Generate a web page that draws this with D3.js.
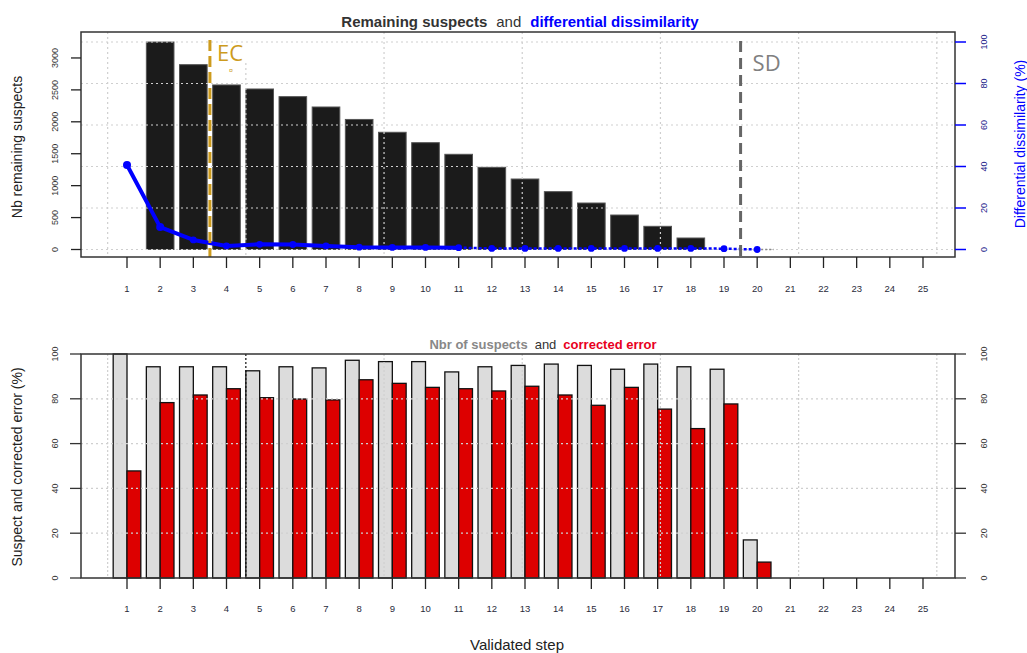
<!DOCTYPE html>
<html>
<head>
<meta charset="utf-8">
<script src="https://cdn.jsdelivr.net/npm/d3@7"></script>
<style>
body { margin:0; background:#fff; }
svg text { font-family: "Liberation Sans", Arial, sans-serif; }
</style>
</head>
<body>
<svg id="chart" width="1027" height="653"></svg>
<script>
// data
var steps = d3.range(1, 26);
var remaining = [0, 3250, 2895, 2577, 2514, 2394, 2232, 2037, 1836, 1673, 1491, 1287, 1104, 906, 728, 540, 363, 180, 0, 0];
var dissim = [40.7, 10.8, 4.6, 1.7, 2.5, 2.4, 1.7, 1.1, 1.0, 1.0, 0.9, 0.5, 0.5, 0.5, 0.5, 0.5, 0.5, 0.5, 0.4, 0.0];
var suspectPct = [100, 94.3, 94.3, 94.3, 92.5, 94.3, 93.8, 97.2, 96.6, 96.6, 92.0, 94.3, 94.9, 95.5, 94.9, 93.2, 95.5, 94.3, 93.2, 17.0];
var correctedPct = [47.8, 78.3, 81.7, 84.5, 80.5, 79.9, 79.5, 88.5, 86.9, 85.1, 84.5, 83.5, 85.6, 81.7, 77.1, 85.1, 75.4, 66.7, 77.7, 7.1];
var leftTicksTop = [0, 500, 1000, 1500, 2000, 2500, 3000];
var pctTicks = [0, 20, 40, 60, 80, 100];
var ecStep = 3.5, sdStep = 19.5, solidUntil = 11;
// grid in barplot coordinates (0,5,..30) -> step units
var gridSteps = [0, 5, 10, 15, 20, 25, 30].map(c => 1 + (c - 0.7) / 1.2);

var svg = d3.select("#chart");
var x = d3.scaleLinear().domain([1, 25]).range([127, 923]);
var stepW = x(2) - x(1);
var boxL = 81, boxR = 955;

var top_ = {t: 32, b: 257};
var bot_ = {t: 354, b: 578};

var yLeft = d3.scaleLinear().domain([0, 3250]).range([249.5, 42]);
var yRight = d3.scaleLinear().domain([0, 100]).range([249.5, 42]);
var yLow = d3.scaleLinear().domain([0, 100]).range([578, 354]);

var gridCol = "#cfcfcf";

////////////// top panel

svg.append("g").selectAll("rect")
  .data(remaining)
  .enter().append("rect")
  .attr("x", (d, i) => x(i + 1) - stepW * 0.833 / 2)
  .attr("width", stepW * 0.833)
  .attr("y", d => yLeft(d))
  .attr("height", d => yLeft(0) - yLeft(d))
  .style("fill", "#1b1b1b")
  .style("stroke", d => d > 0 ? "#555" : "none")
  .style("stroke-width", 1)

// grid over the bars
var gtop = svg.append("g")
gtop.selectAll("line.h")
  .data(pctTicks).enter().append("line")
  .attr("x1", boxL).attr("x2", boxR)
  .attr("y1", d => yRight(d)).attr("y2", d => yRight(d))
  .style("stroke", gridCol).style("stroke-dasharray", "2,3").style("stroke-width", 1.2)
gtop.selectAll("line.v")
  .data(gridSteps).enter().append("line")
  .attr("x1", d => x(d)).attr("x2", d => x(d))
  .attr("y1", (d, i) => i == 1 ? 63 : top_.t).attr("y2", top_.b)
  .style("stroke", gridCol).style("stroke-dasharray", "2,3").style("stroke-width", 1.2)

// dissimilarity line
var line = d3.line().x((d, i) => x(i + 1)).y(d => yRight(d));
var solidPart = dissim.slice(0, solidUntil);
svg.append("path")
  .attr("d", line(solidPart))
  .style("fill", "none").style("stroke", "blue").style("stroke-width", 4)
  .style("stroke-linejoin", "round")
svg.append("path")
  .attr("d", d3.line().x(d => x(d[0])).y(d => yRight(d[1]))(dissim.map((d, i) => [i + 1, d]).slice(solidUntil - 1)))
  .style("fill", "none").style("stroke", "blue").style("stroke-width", 2.5)
  .style("stroke-dasharray", "3,2")
svg.append("line")
  .attr("x1", x(20)).attr("x2", x(20.5))
  .attr("y1", yRight(0)).attr("y2", yRight(0))
  .style("stroke", "#888").style("stroke-dasharray", "2,2").style("stroke-width", 1.5)

svg.append("g").selectAll("circle")
  .data(dissim).enter().append("circle")
  .attr("cx", (d, i) => x(i + 1))
  .attr("cy", d => yRight(d))
  .attr("r", (d, i) => i < 2 ? 4 : 3.4)
  .style("fill", "blue")

// EC and SD lines
svg.append("line")
  .attr("x1", x(ecStep)).attr("x2", x(ecStep))
  .attr("y1", 40).attr("y2", top_.b)
  .style("stroke", "#cd9b1d").style("stroke-width", 3).style("stroke-dasharray", "11,5")
svg.append("text").attr("x", x(ecStep) + 7).attr("y", 61)
  .style("font-family", "'Open Sans', 'DejaVu Sans', sans-serif")
  .style("font-size", "22px").style("fill", "#cd9b1d").text("EC")
svg.append("text").attr("x", 231).attr("y", 73).attr("text-anchor", "middle")
  .style("font-size", "7px").style("fill", "#cd9b1d").text("¤")

svg.append("line")
  .attr("x1", x(sdStep)).attr("x2", x(sdStep))
  .attr("y1", 41).attr("y2", top_.b)
  .style("stroke", "#666").style("stroke-width", 3).style("stroke-dasharray", "11,6")
svg.append("text").attr("x", x(sdStep) + 12).attr("y", 71)
  .style("font-family", "'Open Sans', 'DejaVu Sans', sans-serif")
  .style("font-size", "22px").style("fill", "#808080").text("SD")

// box
svg.append("rect").attr("x", boxL).attr("y", top_.t).attr("width", boxR - boxL).attr("height", top_.b - top_.t)
  .style("fill", "none").style("stroke", "#333").style("stroke-width", 1.5)

// left axis
var la = svg.append("g")
la.selectAll("line").data(leftTicksTop).enter().append("line")
  .attr("x1", 71).attr("x2", boxL).attr("y1", d => yLeft(d)).attr("y2", d => yLeft(d))
  .style("stroke", "#222").style("stroke-width", 1.3)
la.selectAll("text").data(leftTicksTop).enter().append("text")
  .attr("transform", d => "translate(58," + yLeft(d) + ") rotate(-90)")
  .attr("text-anchor", "middle")
  .style("font-size", "9px").style("fill", "#333").text(d => d)

// right axis (blue)
var ra = svg.append("g")
ra.selectAll("line").data(pctTicks).enter().append("line")
  .attr("x1", boxR).attr("x2", 966).attr("y1", d => yRight(d)).attr("y2", d => yRight(d))
  .style("stroke", "blue").style("stroke-width", 1.5)
ra.selectAll("text").data(pctTicks).enter().append("text")
  .attr("transform", d => "translate(987," + yRight(d) + ") rotate(-90)")
  .attr("text-anchor", "middle")
  .style("font-size", "9px").style("fill", "#1a1a8a").text(d => d)

// x axis
function xaxis(y0, ylab) {
  var g = svg.append("g")
  g.selectAll("line").data(steps).enter().append("line")
    .attr("x1", d => x(d)).attr("x2", d => x(d)).attr("y1", y0).attr("y2", y0 + 11)
    .style("stroke", "#222").style("stroke-width", 1.3)
  g.selectAll("text").data(steps).enter().append("text")
    .attr("x", d => x(d)).attr("y", ylab).attr("text-anchor", "middle")
    .style("font-size", "9.5px").style("fill", "#2a2a3a").text(d => d)
}
xaxis(top_.b, 292)

// titles
var t1 = svg.append("text").attr("x", 520).attr("y", 27).attr("text-anchor", "middle")
  .style("font-size", "15px")
t1.append("tspan").style("font-weight", "bold").style("fill", "#333").text("Remaining suspects")
t1.append("tspan").style("fill", "#333").attr("dx", 9).text("and")
t1.append("tspan").style("font-weight", "bold").style("fill", "blue").attr("dx", 9).text("differential dissimilarity")

svg.append("text").attr("transform", "translate(22,147) rotate(-90)").attr("text-anchor", "middle")
  .style("font-size", "14px").style("fill", "#222").text("Nb remaining suspects")
svg.append("text").attr("transform", "translate(1025,144) rotate(-90)").attr("text-anchor", "middle")
  .style("font-size", "14px").style("fill", "blue").text("Differential dissimilarity (%)")

////////////// bottom panel

var barW = stepW * 0.833 / 2;
svg.append("g").selectAll("rect")
  .data(suspectPct).enter().append("rect")
  .attr("x", (d, i) => x(i + 1) - barW).attr("width", barW)
  .attr("y", d => yLow(d)).attr("height", d => yLow(0) - yLow(d))
  .style("fill", "#dcdcdc").style("stroke", "#111").style("stroke-width", 1.3)
svg.append("g").selectAll("rect")
  .data(correctedPct).enter().append("rect")
  .attr("x", (d, i) => x(i + 1)).attr("width", barW)
  .attr("y", d => yLow(d)).attr("height", d => yLow(0) - yLow(d))
  .style("fill", "#dd0000").style("stroke", "#111").style("stroke-width", 1.3)

var gb = svg.append("g")
gb.selectAll("line.h").data([20, 40, 60, 80]).enter().append("line")
  .attr("x1", boxL).attr("x2", boxR).attr("y1", d => yLow(d)).attr("y2", d => yLow(d))
  .style("stroke", gridCol).style("stroke-dasharray", "2,3").style("stroke-width", 1.2)
gb.selectAll("line.v").data(gridSteps).enter().append("line")
  .attr("x1", d => x(d)).attr("x2", d => x(d)).attr("y1", bot_.t).attr("y2", bot_.b)
  .style("stroke", (d, i) => i == 1 ? "#111" : gridCol)
  .style("stroke-dasharray", "2,2").style("stroke-width", 1.2)

svg.append("rect").attr("x", boxL).attr("y", bot_.t).attr("width", boxR - boxL).attr("height", bot_.b - bot_.t)
  .style("fill", "none").style("stroke", "#333").style("stroke-width", 1.5)

// y axes both sides
var lb = svg.append("g")
lb.selectAll("line.l").data(pctTicks).enter().append("line")
  .attr("x1", 70).attr("x2", boxL).attr("y1", d => yLow(d)).attr("y2", d => yLow(d))
  .style("stroke", "#333").style("stroke-width", 1.3)
lb.selectAll("line.r").data(pctTicks).enter().append("line")
  .attr("x1", boxR).attr("x2", 966).attr("y1", d => yLow(d)).attr("y2", d => yLow(d))
  .style("stroke", "#333").style("stroke-width", 1.3)
lb.selectAll("text.l").data(pctTicks).enter().append("text")
  .attr("transform", d => "translate(58," + yLow(d) + ") rotate(-90)")
  .attr("text-anchor", "middle").style("font-size", "9px").style("fill", "#333").text(d => d)
lb.selectAll("text.r").data(pctTicks).enter().append("text")
  .attr("transform", d => "translate(987," + yLow(d) + ") rotate(-90)")
  .attr("text-anchor", "middle").style("font-size", "9px").style("fill", "#333").text(d => d)

xaxis(bot_.b, 612)

var t2 = svg.append("text").attr("x", 543).attr("y", 349).attr("text-anchor", "middle")
  .style("font-size", "13px")
t2.append("tspan").style("font-weight", "bold").style("fill", "#888").text("Nbr of suspects")
t2.append("tspan").style("fill", "#333").attr("dx", 7).text("and")
t2.append("tspan").style("font-weight", "bold").style("fill", "#e8001c").attr("dx", 7).text("corrected error")

svg.append("text").attr("transform", "translate(22,467) rotate(-90)").attr("text-anchor", "middle")
  .style("font-size", "14px").style("fill", "#222").text("Suspect and corrected error (%)")
svg.append("text").attr("x", 517).attr("y", 650).attr("text-anchor", "middle")
  .style("font-size", "15px").style("fill", "#222").text("Validated step")
</script>
</body>
</html>
